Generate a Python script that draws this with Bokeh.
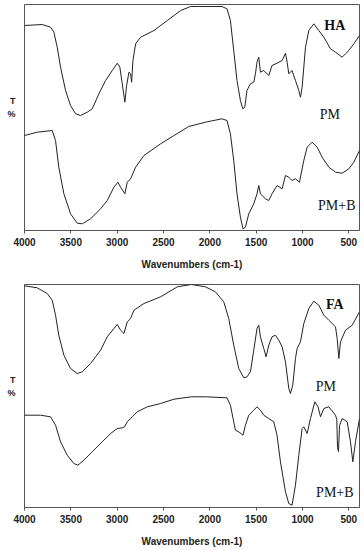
from bokeh.plotting import figure
from bokeh.models import Range1d, FixedTicker, Label
from bokeh.layouts import column
from bokeh.embed import file_html
from bokeh.resources import INLINE

# ---------------- data (transmittance in arbitrary units) ----------------
ticks = [4000, 3500, 3000, 2500, 2000, 1500, 1000, 500]
x_label = "Wavenumbers (cm-1)"

ha_wn = [4000, 3809, 3719, 3683, 3647, 3611, 3557, 3503, 3449, 3395,
         3323, 3269, 3197, 3125, 3053, 2999, 2971, 2945, 2917, 2898,
         2873, 2855, 2844, 2830, 2801, 2747, 2603, 2459, 2315, 2207,
         2120, 1869, 1815, 1778, 1742, 1707, 1670, 1645, 1623, 1599,
         1562, 1526, 1508, 1491, 1472, 1454, 1418, 1364, 1329, 1275,
         1220, 1184, 1166, 1148, 1113, 1076, 1040, 1022, 1004, 968,
         932, 878, 824, 770, 698, 644, 572, 536, 500, 446, 385]
ha_t = [205, 206, 203.3, 198.3, 183.3, 163.3, 140, 125, 116.7, 115,
        118.3, 121.7, 136.7, 150, 160, 167.3, 163.3, 146.7, 128.3, 145,
        158.3, 156.7, 148.3, 170, 186.7, 193.3, 200, 210, 220, 224,
        224, 224, 221.7, 210, 180, 150, 130, 121.7, 123.3, 140,
        146.7, 148.3, 156.7, 168.3, 173.3, 158.3, 160, 155, 165, 167.3,
        170, 177.3, 168.3, 156.7, 160, 150, 140, 133.3, 143.3, 183.3,
        200, 206.7, 200, 193.3, 181.7, 178.3, 173.3, 176.7, 180, 186.7, 195]

ha_pmb_wn = [4000, 3863, 3701, 3665, 3630, 3575, 3503, 3431, 3377, 3287,
             3179, 3107, 3035, 2992, 2963, 2917, 2891, 2855, 2801, 2711,
             2531, 2387, 2228, 2048, 1869, 1815, 1778, 1742, 1707, 1670,
             1642, 1616, 1580, 1526, 1491, 1472, 1454, 1400, 1364, 1329,
             1275, 1220, 1184, 1148, 1113, 1076, 1033, 986, 950, 896,
             842, 788, 716, 644, 572, 500, 446, 385]
ha_pmb_t = [95, 98.3, 100, 90, 63.3, 36.7, 16.7, 7.3, 6.7, 11.7,
            21.7, 30, 43.3, 48.3, 43.3, 36.7, 48.3, 51.7, 63.3, 75,
            86.7, 95, 104, 108.3, 111.7, 110, 96.7, 70, 36.7, 13.3,
            1.7, 3.3, 16.7, 26.7, 36.7, 45, 36.7, 31.7, 30, 36.7,
            45, 41.7, 55, 53.3, 50, 51.7, 48.3, 70, 83.3, 88.3,
            83.3, 73.3, 63.3, 58.3, 57.3, 61.7, 68.3, 80]

fa_wn = [4000, 3863, 3755, 3701, 3665, 3630, 3575, 3503, 3431, 3377,
         3287, 3179, 3107, 3035, 2999, 2963, 2927, 2891, 2855, 2819,
         2711, 2531, 2441, 2350, 2199, 2048, 1940, 1850, 1796, 1742,
         1688, 1634, 1599, 1562, 1526, 1491, 1472, 1454, 1418, 1393,
         1364, 1329, 1292, 1256, 1220, 1184, 1148, 1130, 1105, 1076,
         1058, 1022, 986, 932, 878, 824, 770, 716, 644, 626,
         608, 590, 536, 464, 385]
fa_t = [221.7, 219.7, 214, 207.3, 192.3, 172.3, 152.3, 139, 134, 135.7,
        144, 157.3, 170.7, 179, 183, 177.3, 174, 185.7, 189, 197.3,
        204, 210.7, 215.7, 220.7, 223, 220.7, 215.7, 205.7, 189, 162.3,
        139, 129.7, 130.7, 135.7, 157.3, 179, 182.3, 170.7, 159, 150.7,
        162.3, 170.7, 172.3, 167.3, 160.7, 145.7, 119, 114, 122.3, 149,
        159, 165.7, 184, 199, 206.3, 202.3, 192.3, 187.3, 180.7, 169,
        149, 165.7, 177.3, 182.3, 195.7]

fa_pmb_wn = [4000, 3827, 3719, 3665, 3611, 3539, 3467, 3424, 3359, 3269,
             3161, 3071, 2999, 2945, 2920, 2891, 2837, 2783, 2675, 2531,
             2387, 2199, 2048, 1815, 1778, 1742, 1724, 1688, 1642, 1616,
             1580, 1526, 1491, 1454, 1418, 1364, 1310, 1275, 1238, 1184,
             1148, 1113, 1076, 1040, 1004, 986, 950, 914, 867, 832,
             806, 770, 716, 644, 630, 622, 612, 600, 572, 518,
             482, 457, 428, 385]
fa_pmb_t = [92.3, 92.3, 90.7, 82.3, 65.7, 52.3, 44, 42.3, 47.3, 55.7,
            65.7, 74, 79, 79.7, 80.7, 85.7, 90.7, 95.7, 100.7, 104,
            108.3, 110.7, 110.7, 109.7, 102.3, 85.7, 77.3, 75.7, 72.3, 82.3,
            92.3, 97.3, 100.7, 97.3, 92.3, 89, 85.7, 72.3, 45.7, 15.7,
            4, 2.3, 22.3, 52.3, 79, 80.7, 74, 89, 105.7, 100.7,
            90.7, 99, 100.7, 92.3, 88, 60, 56, 82, 89, 85.7,
            65.7, 45.7, 65.7, 89]

LINE = "#222222"
FRAME = "#555555"


def panel(height, top, bottom, ymax, curves, labels, tlab, title_standoff):
    p = figure(width=362, height=height, output_backend="svg", toolbar_location=None,
               x_range=Range1d(4000, 385), y_range=Range1d(0, ymax),
               min_border_left=24, min_border_right=3,
               min_border_top=top, min_border_bottom=bottom)
    p.outline_line_color = FRAME
    p.outline_line_width = 1
    p.xgrid.visible = False
    p.ygrid.visible = False
    # x axis
    ax = p.xaxis[0]
    ax.ticker = FixedTicker(ticks=ticks)
    ax.minor_tick_line_color = None
    ax.major_tick_in = 0
    ax.major_tick_out = 3
    ax.major_tick_line_color = FRAME
    ax.axis_line_color = FRAME
    ax.major_label_text_font = "Liberation Sans"
    ax.major_label_text_font_style = "bold"
    ax.major_label_text_font_size = "10px"
    ax.major_label_text_color = "#222222"
    ax.major_label_standoff = 4
    ax.axis_label = x_label
    ax.axis_label_text_font = "Liberation Sans"
    ax.axis_label_text_font_style = "bold"
    ax.axis_label_text_font_size = "10px"
    ax.axis_label_text_color = "#222222"
    ax.axis_label_standoff = title_standoff
    # y axis: only the stacked "T %" caption
    ay = p.yaxis[0]
    ay.ticker = FixedTicker(ticks=[t for t, _ in tlab])
    ay.major_label_overrides = {t: s for t, s in tlab}
    ay.minor_tick_line_color = None
    ay.major_tick_line_color = None
    ay.major_tick_in = 0
    ay.major_tick_out = 0
    ay.axis_line_color = None
    ay.major_label_standoff = 9
    ay.major_label_text_font = "Liberation Sans"
    ay.major_label_text_font_style = "bold"
    ay.major_label_text_font_size = "9px"
    ay.major_label_text_color = "#222222"
    for xs, ys in curves:
        p.line(xs, ys, line_color=LINE, line_width=1)
    for (tx, ty, txt, style) in labels:
        p.add_layout(Label(x=tx, y=ty, text=txt, text_font="Liberation Serif",
                           text_font_style=style, text_font_size="14px",
                           text_align="center", text_baseline="alphabetic",
                           text_color="#111111"))
    return p


p1 = panel(278, 4, 48, 226,
           [(ha_wn, ha_t), (ha_pmb_wn, ha_pmb_t)],
           [(651, 205, "HA", "bold"), (705, 116, "PM", "normal"), (630, 25, "PM+B", "normal")],
           [(130, "T"), (117, "%")], 10)
p2 = panel(271, 6, 42, 223,
           [(fa_wn, fa_t), (fa_pmb_wn, fa_pmb_t)],
           [(651, 203, "FA", "bold"), (749, 121, "PM", "normal"), (651, 15, "PM+B", "normal")],
           [(128, "T"), (115, "%")], 10)

layout = column(p1, p2)
open("out.html", "w").write(file_html(layout, INLINE))
